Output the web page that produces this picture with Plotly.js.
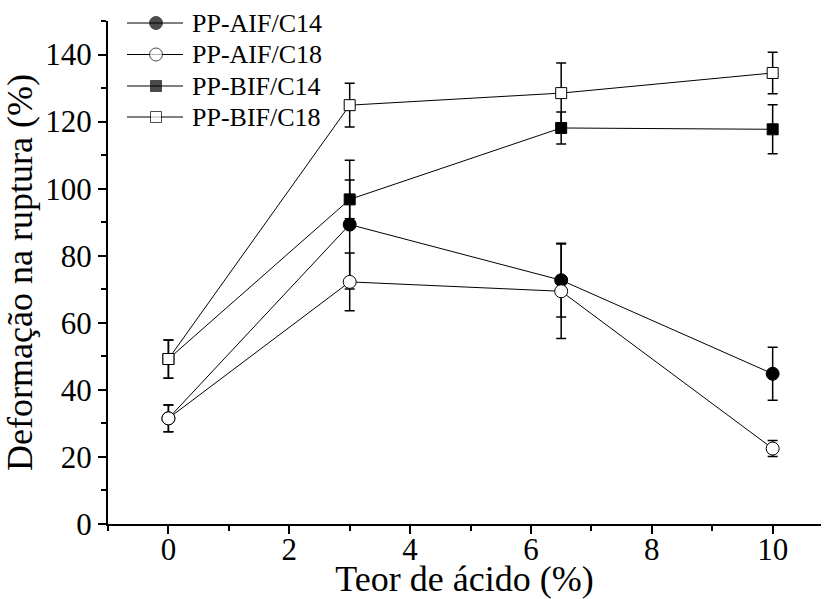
<!DOCTYPE html>
<html>
<head>
<meta charset="utf-8">
<script src="https://cdn.plot.ly/plotly-3.0.1.min.js"></script>
<style>
  html, body { margin: 0; padding: 0; background: #fff; }
  #chart { width: 829px; height: 599px; }
</style>
</head>
<body>
<div id="chart"></div>
<script>
// Acid content (%) on the x axis
const teorAcido = [0, 3, 6.5, 10];

// Elongation at break (%) and standard deviation per formulation
const aifC14 = [31.5, 89.3, 72.7, 44.8];
const aifC14Err = [4.0, 19.2, 11.0, 7.9];

const aifC18 = [31.5, 72.2, 69.4, 22.5];
const aifC18Err = [4.0, 8.6, 14.1, 2.4];

const bifC14 = [49.2, 96.8, 118.1, 117.7];
const bifC14Err = [5.7, 5.8, 4.8, 7.3];

const bifC18 = [49.2, 124.9, 128.5, 134.5];
const bifC18Err = [5.7, 6.5, 9.0, 6.2];

const seriesNames = ['PP-AIF/C14', 'PP-AIF/C18', 'PP-BIF/C14', 'PP-BIF/C18'];

const FONT = '"Times New Roman", "Liberation Serif", Times, serif';

const styles = {
  'PP-AIF/C14': { symbol: 'circle', size: 13, fill: '#000' },
  'PP-AIF/C18': { symbol: 'circle', size: 13, fill: '#fff' },
  'PP-BIF/C14': { symbol: 'square', size: 11, fill: '#000' },
  'PP-BIF/C18': { symbol: 'square', size: 11, fill: '#fff' }
};

function serie(name, y, err) {
  const s = styles[name];
  return {
    type: 'scatter',
    mode: 'lines+markers',
    name: name,
    x: teorAcido,
    y: y,
    showlegend: false,
    line: { color: '#000', width: 1 },
    marker: { symbol: s.symbol, size: s.size, color: s.fill, line: { color: '#000', width: 1 } },
    error_y: { type: 'data', array: err, visible: true, color: '#000', thickness: 1.5, width: 5 }
  };
}

// squares first so the circles and open symbols sit on top
const data = [
  serie('PP-BIF/C14', bifC14, bifC14Err),
  serie('PP-BIF/C18', bifC18, bifC18Err),
  serie('PP-AIF/C14', aifC14, aifC14Err),
  serie('PP-AIF/C18', aifC18, aifC18Err)
];

// Key in the upper-left corner, laid out on a pixel-scaled overlay axis
const keyLeft = 127, keyRight = 183, keyMid = 156, keyText = 190;
const keyRows = [23, 54.5, 86, 117];
const annotations = [];
seriesNames.forEach(function (name, i) {
  const s = styles[name];
  data.push({
    type: 'scatter', mode: 'lines+markers', xaxis: 'x2', yaxis: 'y2',
    x: [keyLeft, keyMid, keyRight], y: [keyRows[i], keyRows[i], keyRows[i]],
    showlegend: false, cliponaxis: false, hoverinfo: 'skip',
    line: { color: '#000', width: 1 },
    marker: { symbol: s.symbol, size: [0, s.size, 0], color: s.fill, line: { color: '#000', width: [0, 1, 0] } }
  });
  annotations.push({
    xref: 'x2', yref: 'y2', x: keyText, y: keyRows[i],
    xanchor: 'left', yanchor: 'middle', showarrow: false,
    text: name, font: { family: FONT, size: 26, color: '#000' }
  });
});

const layout = {
  width: 829,
  height: 599,
  margin: { l: 108, r: 8, t: 21, b: 75 },
  paper_bgcolor: '#fff',
  plot_bgcolor: '#fff',
  font: { family: FONT, color: '#000' },
  showlegend: false,
  annotations: annotations,
  xaxis: {
    range: [-1, 10.8],
    tickmode: 'array',
    tickvals: [0, 2, 4, 6, 8, 10],
    ticks: 'outside', ticklen: 8, tickwidth: 2, tickcolor: '#000',
    minor: { tickvals: [-1, 1, 3, 5, 7, 9], ticks: 'outside', ticklen: 5, tickwidth: 2, tickcolor: '#000' },
    showline: true, linecolor: '#000', linewidth: 2,
    showgrid: false, zeroline: false,
    ticklabelstandoff: -11,
    tickfont: { family: FONT, size: 31, color: '#000' },
    title: { text: 'Teor de ácido (%)', font: { family: FONT, size: 36, color: '#000' }, standoff: 0 }
  },
  yaxis: {
    range: [0, 150],
    tickmode: 'array',
    tickvals: [0, 20, 40, 60, 80, 100, 120, 140],
    ticks: 'outside', ticklen: 8, tickwidth: 2, tickcolor: '#000',
    minor: { tickvals: [10, 30, 50, 70, 90, 110, 130, 150], ticks: 'outside', ticklen: 5, tickwidth: 2, tickcolor: '#000' },
    showline: true, linecolor: '#000', linewidth: 2,
    showgrid: false, zeroline: false,
    tickfont: { family: FONT, size: 31, color: '#000' },
    title: { text: 'Deformação na ruptura (%)', font: { family: FONT, size: 36, color: '#000' }, standoff: 8 }
  },
  // overlay axes measured in page pixels of the plot area, used only for the key
  xaxis2: { overlaying: 'x', anchor: 'y2', range: [108, 821], visible: false, fixedrange: true },
  yaxis2: { overlaying: 'y', anchor: 'x2', range: [524, 21], visible: false, fixedrange: true }
};

Plotly.newPlot('chart', data, layout, { displayModeBar: false, staticPlot: true });
</script>
</body>
</html>
